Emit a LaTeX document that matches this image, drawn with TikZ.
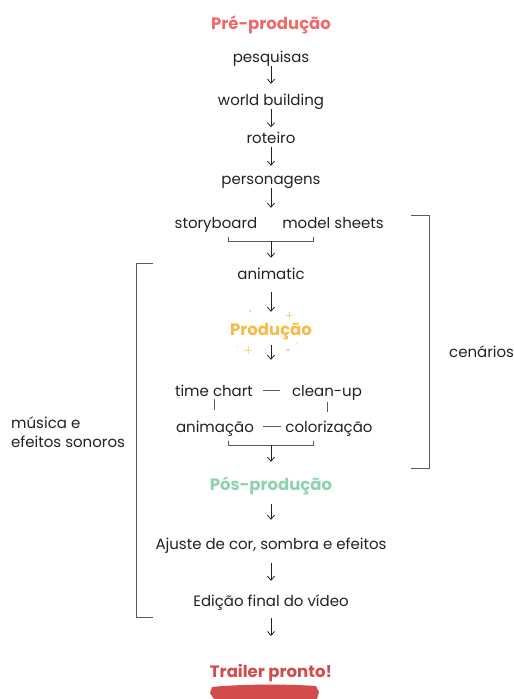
\documentclass[tikz,border=0pt]{standalone}
\usepackage{fontspec}
\setmainfont{Poppins}
\usetikzlibrary{arrows.meta,calc}
\definecolor{txt}{HTML}{222222}
\definecolor{brk}{HTML}{5A5A5A}
\definecolor{pre}{HTML}{EE6A6A}
\definecolor{prod}{HTML}{F7BA48}
\definecolor{pos}{HTML}{8ED2AF}
\definecolor{trl}{HTML}{D24C4C}
\definecolor{spark}{HTML}{F9CB7A}
\tikzset{
  lbl/.style={font=\fontsize{15}{17}\selectfont, text=txt, text height=12.5pt, text depth=0.5pt, inner sep=3pt},
  head/.style={font=\fontsize{16.5}{19}\selectfont\bfseries, text height=11pt, text depth=3pt, inner sep=3pt},
  arr/.style={draw=txt, line width=0.8pt, -{Straight Barb[length=4pt,width=7pt]}},
  ln/.style={draw=brk, line width=0.8pt},
  brk/.style={draw=brk, line width=0.9pt},
}
\begin{document}
\begin{tikzpicture}[x=1pt,y=-1pt]
\path[use as bounding box, fill=white] (0,0) rectangle (514,699);
% nodes
\node[head, text=pre] (pre) at (271,25) {Pré-produção};
\node[lbl] (pesq) at (271,56) {pesquisas};
\node[lbl] (wb) at (271,99) {world building};
\node[lbl] (rot) at (271,137) {roteiro};
\node[lbl] (pers) at (271,178) {personagens};
\node[lbl] (sb) at (216,222) {storyboard};
\node[lbl] (ms) at (333,222) {model sheets};
\node[lbl] (anm) at (271,273) {animatic};
\node[head, text=prod] (prod) at (271,331) {Produção};
\node[lbl] (tc) at (214,390) {time chart};
\node[lbl] (cu) at (327,390) {clean-up};
\node[lbl] (ani) at (215,426) {animação};
\node[lbl] (col) at (329,426) {colorização};
\node[head, text=pos] (pos) at (271,486) {Pós-produção};
\node[lbl] (aj) at (271,543) {Ajuste de cor, sombra e efeitos};
\node[lbl] (ed) at (271,600) {Edição final do vídeo};
\node[head, text=trl] (trl) at (271,673) {Trailer pronto!};
\node[lbl, anchor=west, align=left, font=\fontsize{15}{19}\selectfont] (mus) at (8,441.5) {música e\\efeitos sonoros};
\node[lbl, anchor=west] (cen) at (446,351) {cenários};
% arrows
\draw[arr, shorten >=5.5pt] (pesq.south) -- (wb.north);
\draw[arr] (wb.south) -- (rot.north);
\draw[arr, shorten >=2.5pt] (rot.south) -- (pers.north);
\draw[arr, shorten >=4.5pt] (pers.south) -- (pers.south |- sb.north);
% bracket storyboard/model sheets
\coordinate (b1l) at (228,237);
\coordinate (b1r) at (313,237);
\coordinate (b1m) at (271,241);
\draw[ln] (b1l) -- (b1l |- b1m) -- (b1r |- b1m) -- (b1r);
\draw[arr, shorten >=5.5pt] (b1m) -- (anm.north);
\draw[arr, shorten <=9.5pt, shorten >=9pt] (anm.south) -- (prod.north);
\draw[arr, shorten <=4pt, shorten >=20.5pt] (prod.south) -- (prod.south |- tc.north);
% production grid
\draw[ln, shorten <=6.5pt, shorten >=9pt] (tc.east) -- (cu.west);
\draw[ln, shorten <=5.5pt, shorten >=1pt] (ani.east) -- (col.west);
\draw[ln, shorten <=-1pt, shorten >=6pt] (tc.south) -- (tc.south |- ani.north);
\draw[ln, shorten <=2pt, shorten >=4pt] (cu.south) -- (cu.south |- col.north);
\coordinate (b2l) at (228,441);
\coordinate (b2r) at (313,441);
\coordinate (b2m) at (271,445);
\draw[ln] (b2l) -- (b2l |- b2m) -- (b2r |- b2m) -- (b2r);
\draw[arr, shorten >=14pt] (b2m) -- (pos.north);
\draw[arr, shorten <=8pt, shorten >=13.5pt] (pos.south) -- (aj.north);
\draw[arr, shorten <=10pt, shorten >=9.5pt] (aj.south) -- (ed.north);
\coordinate (ea) at (271,636);
\draw[arr, shorten <=8.5pt] (ed.south) -- (ea);
% side brackets
\coordinate (lt) at (153,263);
\coordinate (lb) at (153,617);
\draw[brk] (lt) -- (136,263) -- (136,617) -- (lb);
\coordinate (rt) at (411,215);
\coordinate (rb) at (411,468);
\draw[brk] (rt) -- (429,215) -- (429,468) -- (rb);
% sparkles
\fill[spark] (250,311) circle (1.2);
\fill[spark] (288,350) circle (1.6);
\fill[spark!70] (297,343) circle (1);
\fill[spark!50] (237,346) circle (1);
\draw[spark, line width=0.8pt] (286,315) -- (292,315) (289,312) -- (289,318);
\draw[spark!80, line width=0.8pt] (244,350) -- (252,350) (248,346) -- (248,354);
% brush stroke
\fill[trl] (212,687) .. controls (240,684) and (290,684) .. (316,686)
  -- (319,692) -- (317,699) -- (214,699) -- (210,693) -- cycle;
\end{tikzpicture}
\end{document}
